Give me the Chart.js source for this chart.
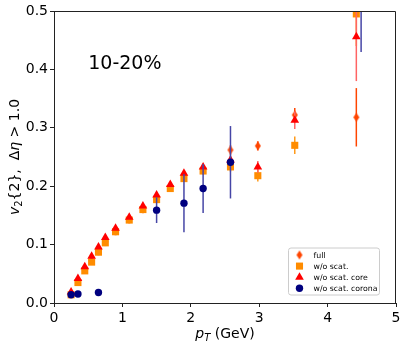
<!DOCTYPE html>
<html>
<head>
<meta charset="utf-8">
<title>v2{2} 10-20%</title>
<script src="https://cdn.jsdelivr.net/npm/chart.js@4.4.0/dist/chart.umd.min.js"></script>
<style>
  body { margin: 0; background: #fff; }
  #wrap { width: 407px; height: 348px; }
</style>
</head>
<body>
<div id="wrap"><canvas id="v2chart" width="407" height="348"></canvas></div>
<script>
// pT bins (GeV), shared by full / w/o scat. / w/o scat. core
const ptBins = [0.25, 0.35, 0.45, 0.55, 0.65, 0.75, 0.9, 1.1, 1.3, 1.5, 1.7, 1.9, 2.18, 2.58, 2.98, 3.52, 4.42];

const v2Full   = [0.016, 0.038, 0.058, 0.073, 0.089, 0.105, 0.123, 0.143, 0.161, 0.179, 0.198, 0.217, 0.229, 0.262, 0.269, 0.322, 0.318];
const errFull  = [0.002, 0.002, 0.002, 0.002, 0.003, 0.003, 0.003, 0.003, 0.004, 0.004, 0.005, 0.005, 0.006, 0.008, 0.008, 0.012, 0.050];

const v2NoScat  = [0.014, 0.035, 0.055, 0.070, 0.087, 0.103, 0.122, 0.142, 0.160, 0.177, 0.196, 0.213, 0.226, 0.233, 0.218, 0.270, 0.495];
const errNoScat = [0.002, 0.002, 0.002, 0.002, 0.003, 0.003, 0.003, 0.003, 0.004, 0.004, 0.005, 0.005, 0.006, 0.008, 0.010, 0.015, 0.055];

const v2Core   = [0.019, 0.042, 0.062, 0.080, 0.096, 0.112, 0.128, 0.147, 0.166, 0.185, 0.203, 0.222, 0.233, 0.245, 0.233, 0.313, 0.456];
const errCore  = [0.002, 0.002, 0.002, 0.002, 0.003, 0.003, 0.003, 0.003, 0.004, 0.004, 0.005, 0.005, 0.006, 0.008, 0.010, 0.015, 0.076];

// corona only has a few bins
const ptCorona  = [0.25, 0.35, 0.65, 1.5, 1.9, 2.18, 2.58, 4.49];
const v2Corona  = [0.014, 0.0155, 0.018, 0.159, 0.171, 0.196, 0.241, 0.53];
const errCorona = [0.003, 0.003, 0.006, 0.022, 0.050, 0.042, 0.062, 0.100];

const xTicks = [0, 1, 2, 3, 4, 5];
const xTickLabels = ["0", "1", "2", "3", "4", "5"];
const yTicks = [0, 0.1, 0.2, 0.3, 0.4, 0.5];
const yTickLabels = ["0.0", "0.1", "0.2", "0.3", "0.4", "0.5"];

const labels = ["full", "w/o scat.", "w/o scat. core", "w/o scat. corona"];
const centrality = "10-20%";

const FONT = "DejaVu Sans";

function toPoints(xs, ys) {
  return xs.map((x, i) => ({ x: x, y: ys[i] }));
}

// thin diamond marker like matplotlib 'd'
function thinDiamond(color) {
  var c = document.createElement("canvas");
  c.width = 8;
  c.height = 11;
  var g = c.getContext("2d");
  g.fillStyle = color;
  g.beginPath();
  g.moveTo(4, 1);
  g.lineTo(7, 5.5);
  g.lineTo(4, 10);
  g.lineTo(1, 5.5);
  g.closePath();
  g.fill();
  return c;
}
const diamond = thinDiamond("#ff4500");

// vertical error bars drawn just before each dataset's markers
const errorBars = {
  id: "errorBars",
  beforeDatasetDraw(chart, args) {
    var ds = chart.data.datasets[args.index];
    if (!ds.errors) return;
    var ctx = chart.ctx, xs = chart.scales.x, ys = chart.scales.y, a = chart.chartArea;
    ctx.save();
    ctx.beginPath();
    ctx.rect(a.left, a.top, a.right - a.left, a.bottom - a.top);
    ctx.clip();
    ctx.strokeStyle = ds.errorColor;
    ctx.lineWidth = 1.5;
    ds.data.forEach((p, i) => {
      var px = xs.getPixelForValue(p.x);
      ctx.beginPath();
      ctx.moveTo(px, ys.getPixelForValue(p.y - ds.errors[i]));
      ctx.lineTo(px, ys.getPixelForValue(p.y + ds.errors[i]));
      ctx.stroke();
    });
    ctx.restore();
  },
};

function drawPieces(ctx, pieces, x, y) {
  pieces.forEach((p) => {
    ctx.font = p.font;
    ctx.fillText(p.text, x, y + (p.dy || 0));
    x += ctx.measureText(p.text).width;
  });
}
function piecesWidth(ctx, pieces) {
  var w = 0;
  pieces.forEach((p) => {
    ctx.font = p.font;
    w += ctx.measureText(p.text).width;
  });
  return w;
}

// frame, axis titles, centrality label and legend box
const decorations = {
  id: "decorations",
  afterDraw(chart) {
    var ctx = chart.ctx, a = chart.chartArea;
    ctx.save();
    ctx.strokeStyle = "#222";
    ctx.lineWidth = 1;
    ctx.beginPath();
    ctx.moveTo(Math.round(a.left) + 0.5, Math.round(a.top) + 0.5);
    ctx.lineTo(Math.round(a.right) - 0.5, Math.round(a.top) + 0.5);
    ctx.lineTo(Math.round(a.right) - 0.5, Math.round(a.bottom));
    ctx.stroke();

    ctx.fillStyle = "#000";
    ctx.textBaseline = "alphabetic";
    ctx.textAlign = "left";

    // x title: p_T (GeV)
    var xt = [
      { text: "p", font: "italic 14px " + FONT },
      { text: "T", font: "italic 10px " + FONT, dy: 3 },
      { text: " (GeV)", font: "14px " + FONT },
    ];
    var cx = (a.left + a.right) / 2;
    drawPieces(ctx, xt, cx - piecesWidth(ctx, xt) / 2, 338);

    // y title: v_2{2}, Δη > 1.0
    var yt = [
      { text: "v", font: "italic 14px " + FONT },
      { text: "2", font: "10px " + FONT, dy: 3 },
      { text: "{2},  \u0394", font: "14px " + FONT },
      { text: "\u03b7", font: "italic 14px " + FONT },
      { text: " > 1.0", font: "14px " + FONT },
    ];
    ctx.save();
    ctx.translate(18.5, (a.top + a.bottom) / 2);
    ctx.rotate(-Math.PI / 2);
    drawPieces(ctx, yt, -piecesWidth(ctx, yt) / 2, 0);
    ctx.restore();

    // centrality label at data coords (0.5, 0.4)
    ctx.font = "19px " + FONT;
    ctx.fillText(centrality, chart.scales.x.getPixelForValue(0.5), chart.scales.y.getPixelForValue(0.4));

    // legend, lower right inside the axes
    var bw = 91, bh = 47;
    var bx = a.right - 16.5 - bw, by = a.bottom - 8 - bh, r = 2.5;
    ctx.beginPath();
    ctx.moveTo(bx + r, by);
    ctx.arcTo(bx + bw, by, bx + bw, by + bh, r);
    ctx.arcTo(bx + bw, by + bh, bx, by + bh, r);
    ctx.arcTo(bx, by + bh, bx, by, r);
    ctx.arcTo(bx, by, bx + bw, by, r);
    ctx.closePath();
    ctx.fillStyle = "rgba(255,255,255,0.8)";
    ctx.fill();
    ctx.strokeStyle = "#cccccc";
    ctx.stroke();

    ctx.font = "7.8px " + FONT;
    ctx.textBaseline = "middle";
    chart.data.datasets.forEach((ds, i) => {
      var mx = bx + 11, my = by + 7 + i * 11.1;
      if (ds.pointStyle instanceof HTMLCanvasElement) {
        ctx.drawImage(ds.pointStyle, mx - ds.pointStyle.width / 2, my - ds.pointStyle.height / 2);
      } else {
        ctx.fillStyle = ds.backgroundColor;
        Chart.helpers.drawPoint(ctx, { pointStyle: ds.pointStyle, radius: ds.pointRadius, rotation: 0, borderWidth: 0 }, mx, my);
      }
      ctx.fillStyle = "#000";
      ctx.fillText(ds.label, bx + 25, my + 0.5);
    });
    ctx.restore();
  },
};

var ctx = document.getElementById("v2chart").getContext("2d");
var v2chart = new Chart(ctx, {
  type: "scatter",
  data: {
    datasets: [
      {
        label: labels[0],
        data: toPoints(ptBins, v2Full),
        errors: errFull,
        errorColor: "#ff4500",
        pointStyle: diamond,
        backgroundColor: "#ff4500",
        pointRadius: 4.5,
        pointBorderWidth: 0,
        order: 4,
        clip: 0,
      },
      {
        label: labels[1],
        data: toPoints(ptBins, v2NoScat),
        errors: errNoScat,
        errorColor: "#ff9a1a",
        pointStyle: "rect",
        backgroundColor: "#ff8c00",
        pointRadius: 5,
        pointBorderWidth: 0,
        order: 3,
        clip: 0,
      },
      {
        label: labels[2],
        data: toPoints(ptBins, v2Core),
        errors: errCore,
        errorColor: "#ff6464",
        pointStyle: "triangle",
        backgroundColor: "#ff0000",
        pointRadius: 5,
        pointBorderWidth: 0,
        order: 2,
        clip: 0,
      },
      {
        label: labels[3],
        data: toPoints(ptCorona, v2Corona),
        errors: errCorona,
        errorColor: "#4646a6",
        pointStyle: "circle",
        backgroundColor: "#00007f",
        pointRadius: 3.7,
        pointBorderWidth: 0,
        order: 1,
        clip: 0,
      },
    ],
  },
  options: {
    responsive: false,
    animation: false,
    events: [],
    layout: { padding: { top: 11, right: 11, left: 0, bottom: 0 } },
    plugins: {
      legend: { display: false },
      tooltip: { enabled: false },
    },
    scales: {
      x: {
        type: "linear",
        min: 0,
        max: 5,
        afterBuildTicks: (scale) => {
          scale.ticks = xTicks.map((v) => ({ value: v }));
        },
        afterFit: (scale) => {
          scale.height = 45;
        },
        ticks: {
          callback: (v, i) => xTickLabels[i],
          color: "#000",
          font: { family: FONT, size: 14 },
          padding: 3,
          maxRotation: 0,
        },
        grid: { drawOnChartArea: false, drawTicks: true, tickLength: 4, color: "#222", tickColor: "#222" },
        border: { display: true, color: "#222", width: 1 },
      },
      y: {
        type: "linear",
        min: 0,
        max: 0.5,
        afterBuildTicks: (scale) => {
          scale.ticks = yTicks.map((v) => ({ value: v }));
        },
        afterFit: (scale) => {
          scale.width = 54;
        },
        ticks: {
          callback: (v, i) => yTickLabels[i],
          color: "#000",
          font: { family: FONT, size: 14 },
          padding: 2,
        },
        grid: { drawOnChartArea: false, drawTicks: true, tickLength: 4, color: "#222", tickColor: "#222" },
        border: { display: true, color: "#222", width: 1 },
      },
    },
  },
  plugins: [errorBars, decorations],
});
</script>
</body>
</html>
